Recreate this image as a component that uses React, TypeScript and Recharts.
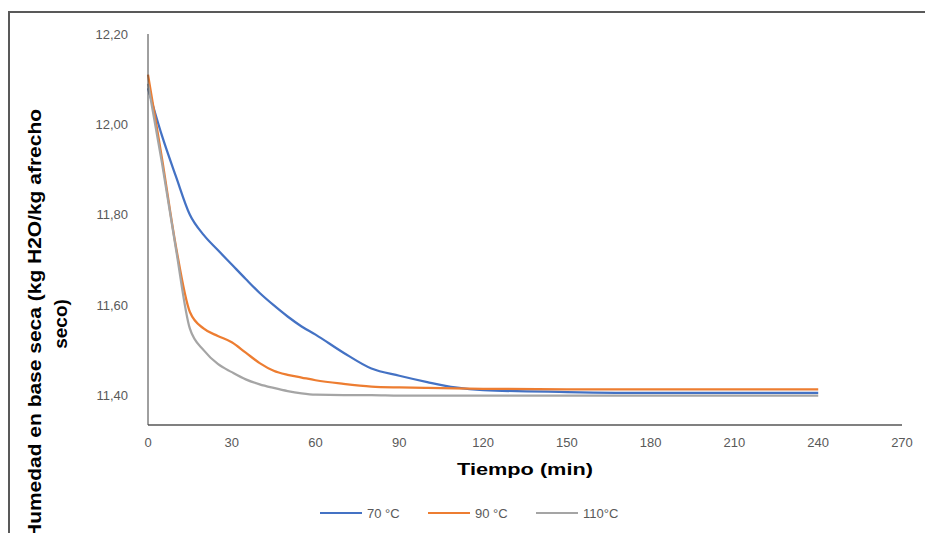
import React from "react";
import { Label, Legend, Line, LineChart, XAxis, YAxis } from "recharts";

// sampling times (min)
const times = [0, 5, 10, 15, 20, 25, 30, 35, 40, 45, 50, 55, 60, 70, 80, 90, 100, 110, 120, 150, 180, 210, 240];

// moisture, dry basis (kg H2O / kg afrecho seco)
const temp70 = [12.08, 11.975, 11.885, 11.8, 11.755, 11.722, 11.69, 11.658, 11.627, 11.6, 11.575, 11.553, 11.535, 11.495, 11.46, 11.444, 11.43, 11.418, 11.412, 11.408, 11.406, 11.406, 11.406];
const temp90 = [12.11, 11.925, 11.73, 11.585, 11.548, 11.532, 11.518, 11.495, 11.472, 11.455, 11.446, 11.44, 11.434, 11.426, 11.42, 11.418, 11.417, 11.416, 11.415, 11.414, 11.414, 11.414, 11.414];
const temp110 = [12.09, 11.915, 11.725, 11.548, 11.5, 11.47, 11.452, 11.436, 11.425, 11.417, 11.41, 11.405, 11.402, 11.401, 11.401, 11.4, 11.4, 11.4, 11.4, 11.4, 11.4, 11.4, 11.4];

const xTicks = [0, 30, 60, 90, 120, 150, 180, 210, 240, 270];
const yTicks = [11.4, 11.6, 11.8, 12.0, 12.2];

const series = [
	{ key: "c70", name: "70 °C", color: "#4472C4" },
	{ key: "c90", name: "90 °C", color: "#ED7D31" },
	{ key: "c110", name: "110°C", color: "#A5A5A5" },
];

const data = times.map((t, i) => ({
	t,
	c70: temp70[i],
	c90: temp90[i],
	c110: temp110[i],
}));

const tickStyle = { fill: "#595959", fontSize: 13, fontFamily: "Liberation Sans, Arial, sans-serif" };

const YTitle = () => (
	<g fontFamily="Liberation Sans, Arial, sans-serif" fontWeight="bold" fontSize={19} fill="#000">
		<text
			transform="translate(41,324) rotate(-90)"
			textAnchor="middle"
			textLength={430}
			lengthAdjust="spacingAndGlyphs"
		>
			Humedad en base seca (kg H2O/kg afrecho
		</text>
		<text transform="translate(67,324) rotate(-90)" textAnchor="middle">
			seco)
		</text>
	</g>
);

const XTitle = (props: any) => {
	const vb = props.viewBox || { x: 148, y: 425, width: 754, height: 73 };
	return (
		<text
			x={vb.x + vb.width / 2}
			y={vb.y + 50}
			textAnchor="middle"
			textLength={136}
			lengthAdjust="spacingAndGlyphs"
			fontFamily="Liberation Sans, Arial, sans-serif"
			fontWeight="bold"
			fontSize={17}
			fill="#000"
		>
			Tiempo (min)
		</text>
	);
};

const LegendBox = () => (
	<div
		style={{
			display: "flex",
			alignItems: "center",
			height: 30,
			paddingLeft: 320,
			fontFamily: "Liberation Sans, Arial, sans-serif",
			fontSize: 13,
			color: "#595959",
		}}
	>
		{series.map((s) => (
			<div key={s.key} style={{ display: "flex", alignItems: "center", width: 108 }}>
				<span style={{ display: "inline-block", width: 42, height: 2.5, background: s.color, marginRight: 5 }} />
				<span>{s.name}</span>
			</div>
		))}
	</div>
);

export default function App() {
	return (
		<div
			style={{
				position: "absolute",
				left: 0,
				top: 0,
				width: 925,
				height: 533,
				background: "#fff",
				overflow: "hidden",
			}}
		>
			<div
				style={{
					position: "absolute",
					left: 8,
					top: 11,
					width: 940,
					height: 540,
					borderLeft: "2px solid #595959",
					borderTop: "2px solid #595959",
				}}
			/>
			<div style={{ position: "absolute", left: 0, top: 0 }}>
				<LineChart width={925} height={533} data={data} margin={{ top: 34, right: 23, bottom: 5, left: 0 }}>
					<XAxis
						dataKey="t"
						type="number"
						domain={[0, 270]}
						ticks={xTicks}
						height={73}
						tickLine={false}
						tickSize={0}
						tickMargin={13}
						tick={tickStyle}
						axisLine={{ stroke: "#808080", strokeWidth: 2 }}
					>
						<Label content={<XTitle />} />
					</XAxis>
					<YAxis
						type="number"
						domain={[11.335, 12.2]}
						allowDataOverflow
						ticks={yTicks}
						width={148}
						tickLine={false}
						tickSize={0}
						tickMargin={20}
						tick={tickStyle}
						tickFormatter={(v: number) => v.toFixed(2).replace(".", ",")}
						axisLine={{ stroke: "#404040", strokeWidth: 1 }}
					>
						<Label content={<YTitle />} />
					</YAxis>
					<Legend verticalAlign="bottom" content={<LegendBox />} wrapperStyle={{ left: 0, width: 925 }} />
					{series.map((s) => (
						<Line
							key={s.key}
							dataKey={s.key}
							name={s.name}
							type="monotone"
							stroke={s.color}
							strokeWidth={2.25}
							dot={false}
							activeDot={false}
							isAnimationActive={false}
						/>
					))}
				</LineChart>
			</div>
		</div>
	);
}
